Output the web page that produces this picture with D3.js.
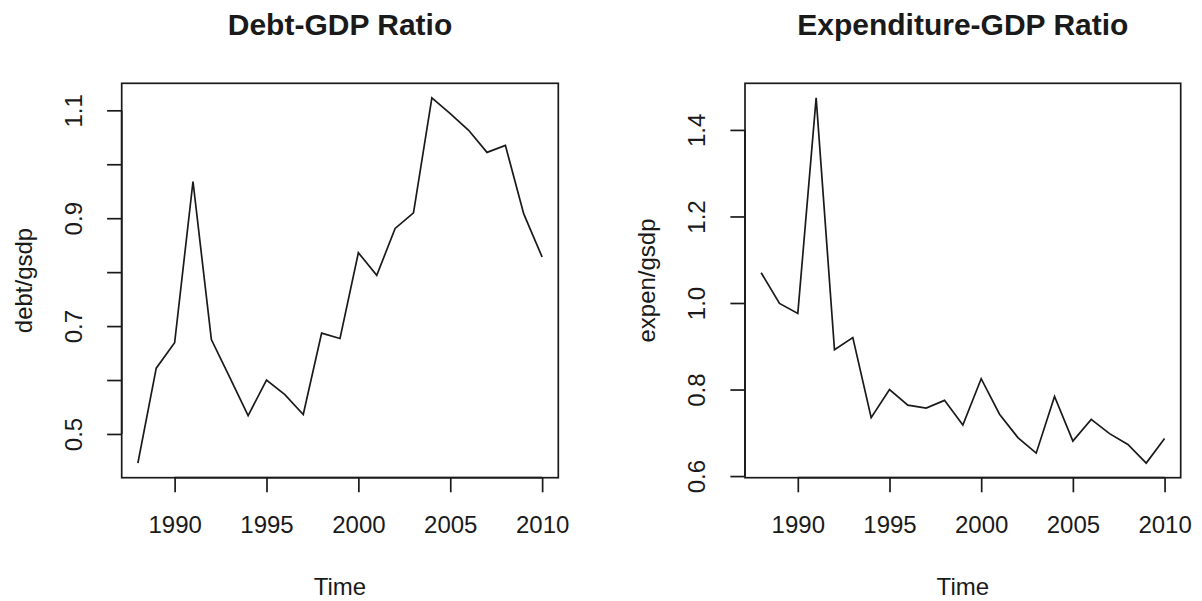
<!DOCTYPE html>
<html>
<head>
<meta charset="utf-8">
<script src="https://cdn.jsdelivr.net/npm/d3@7"></script>
<style>
  body { margin: 0; background: #fff; }
  svg text { font-family: "Liberation Sans", Arial, Helvetica, sans-serif; fill: #1a1a1a; }
</style>
</head>
<body>
<div id="chart"></div>
<script>
const years = d3.range(1988, 2011);

const debtRatio = [0.446, 0.622, 0.669, 0.968, 0.675, 0.605, 0.534, 0.600, 0.573, 0.536,
                   0.687, 0.677, 0.836, 0.794, 0.881, 0.910, 1.123, 1.094, 1.063, 1.022,
                   1.035, 0.908, 0.828];

const expenRatio = [1.070, 0.999, 0.976, 1.474, 0.892, 0.920, 0.735, 0.800, 0.764, 0.757,
                    0.775, 0.718, 0.825, 0.743, 0.689, 0.653, 0.784, 0.681, 0.731, 0.698,
                    0.673, 0.630, 0.687];

const xTicks = [1990, 1995, 2000, 2005, 2010];
const debtTicks = [0.5, 0.6, 0.7, 0.8, 0.9, 1.0, 1.1];
const debtTickLabels = ["0.5", "", "0.7", "", "0.9", "", "1.1"];
const expenTicks = [0.6, 0.8, 1.0, 1.2, 1.4];
const expenTickLabels = ["0.6", "0.8", "1.0", "1.2", "1.4"];

const width = 1202, height = 601;

const svg = d3.select("#chart").append("svg")
  .attr("width", width)
  .attr("height", height);

// R style: extend the data range by 4% on each side
function rRange(ext) {
  const pad = (ext[1] - ext[0]) * 0.04;
  return [ext[0] - pad, ext[1] + pad];
}

function drawPanel(opts) {
  const x0 = opts.left, x1 = opts.right, y0 = 83.3, y1 = 477.7;

  const xScale = d3.scaleLinear()
    .domain(rRange(d3.extent(years)))
    .range([x0, x1]);
  const yScale = d3.scaleLinear()
    .domain(rRange(d3.extent(opts.values)))
    .range([y1, y0]);

  const g = svg.append("g");

  const line = d3.line()
    .x((d, i) => xScale(years[i]))
    .y(d => yScale(d));

  g.append("path")
    .datum(opts.values)
    .attr("d", line)
    .attr("fill", "none")
    .attr("stroke", "#1a1a1a")
    .attr("stroke-width", 1.7)
    .attr("stroke-linejoin", "miter");

  g.append("rect")
    .attr("x", x0).attr("y", y0)
    .attr("width", x1 - x0).attr("height", y1 - y0)
    .attr("fill", "none")
    .attr("stroke", "#1a1a1a")
    .attr("stroke-width", 1.7);

  // bottom axis, R style (line only spans the ticks)
  const xAxis = d3.axisBottom(xScale)
    .tickValues(xTicks)
    .tickFormat(d3.format("d"))
    .tickSize(14.6)
    .tickSizeOuter(0)
    .tickPadding(24);
  const xg = g.append("g")
    .attr("transform", "translate(0," + y1 + ")")
    .call(xAxis);
  xg.select(".domain").remove();
  xg.append("line")
    .attr("x1", xScale(xTicks[0])).attr("x2", xScale(xTicks[xTicks.length - 1]))
    .attr("stroke", "#1a1a1a").attr("stroke-width", 1.7);
  xg.selectAll(".tick line").attr("stroke", "#1a1a1a").attr("stroke-width", 1.7);
  xg.selectAll(".tick text")
    .attr("font-size", 24)
    .attr("font-family", "Liberation Sans, Arial, sans-serif")
    .attr("fill", "#1a1a1a");

  // left axis, labels rotated
  const yAxis = d3.axisLeft(yScale)
    .tickValues(opts.ticks)
    .tickFormat((d, i) => opts.tickLabels[i])
    .tickSize(14.6)
    .tickSizeOuter(0);
  const yg = g.append("g")
    .attr("transform", "translate(" + x0 + ",0)")
    .call(yAxis);
  yg.select(".domain").remove();
  yg.append("line")
    .attr("y1", yScale(opts.ticks[0])).attr("y2", yScale(opts.ticks[opts.ticks.length - 1]))
    .attr("stroke", "#1a1a1a").attr("stroke-width", 1.7);
  yg.selectAll(".tick line").attr("stroke", "#1a1a1a").attr("stroke-width", 1.7);
  yg.selectAll(".tick text")
    .attr("x", null).attr("dy", null)
    .attr("transform", "translate(-40,0) rotate(-90)")
    .attr("text-anchor", "middle")
    .attr("font-size", 24)
    .attr("font-family", "Liberation Sans, Arial, sans-serif")
    .attr("fill", "#1a1a1a");

  // title
  g.append("text")
    .attr("x", (x0 + x1) / 2).attr("y", 35)
    .attr("text-anchor", "middle")
    .attr("font-size", 30)
    .attr("font-weight", "bold")
    .text(opts.title);

  // axis titles
  g.append("text")
    .attr("x", (x0 + x1) / 2).attr("y", 595)
    .attr("text-anchor", "middle")
    .attr("font-size", 24)
    .text("Time");

  g.append("text")
    .attr("transform", "translate(" + (x0 - 90) + "," + ((y0 + y1) / 2) + ") rotate(-90)")
    .attr("text-anchor", "middle")
    .attr("font-size", 24)
    .text(opts.ylab);
}

drawPanel({
  left: 121.7, right: 558.3,
  values: debtRatio,
  ticks: debtTicks, tickLabels: debtTickLabels,
  title: "Debt-GDP Ratio", ylab: "debt/gsdp"
});

drawPanel({
  left: 745, right: 1180.7,
  values: expenRatio,
  ticks: expenTicks, tickLabels: expenTickLabels,
  title: "Expenditure-GDP Ratio", ylab: "expen/gsdp"
});
</script>
</body>
</html>
